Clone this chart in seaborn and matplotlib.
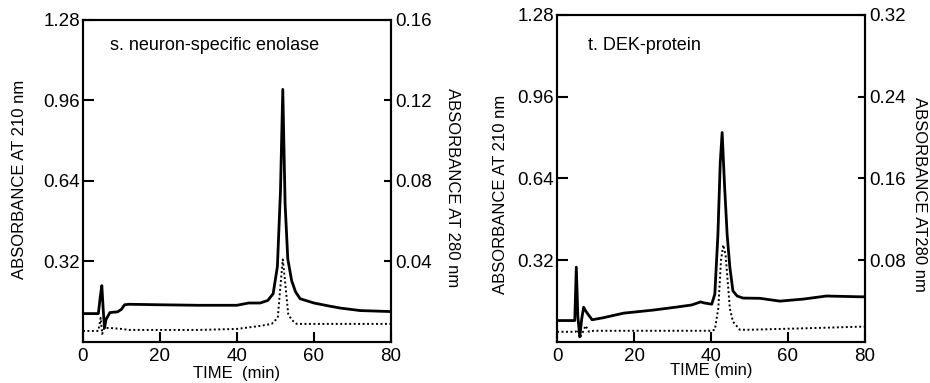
import numpy as np
import pandas as pd
import matplotlib
matplotlib.use("Agg")
import matplotlib.pyplot as plt
import seaborn as sns

# ==========================================
# DATA
# ==========================================
# s. neuron-specific enolase, absorbance at 210 nm (left axis)
nse_t210 = [0, 4.0, 4.5, 4.9, 5.3, 5.6, 6.0, 7.0, 9.0, 10.0, 10.8, 12, 20, 30, 40, 43,
            46, 48, 49.4, 50.5, 51.3, 51.9, 52.5, 53.2, 54.2, 55.2, 56.4, 60, 63.6, 66.8, 72, 80]
nse_a210 = [0.113, 0.113, 0.18, 0.224, 0.12, 0.056, 0.09, 0.117, 0.12, 0.13, 0.148, 0.15, 0.148,
            0.146, 0.146, 0.155, 0.155, 0.165, 0.192, 0.30, 0.60, 1.004, 0.55, 0.33, 0.244, 0.20,
            0.172, 0.155, 0.144, 0.135, 0.125, 0.121]
# absorbance at 280 nm (right axis)
nse_t280 = [0, 4.0, 4.6, 5.0, 5.5, 7, 10, 12, 20, 30, 40, 46, 49, 50.6, 51.3, 51.9, 52.5,
            53.3, 54.2, 55.5, 60, 70, 80]
nse_a280 = [0.0055, 0.0055, 0.012, 0.004, 0.007, 0.007, 0.0065, 0.006, 0.006, 0.006, 0.0065,
            0.008, 0.009, 0.012, 0.028, 0.041, 0.03, 0.014, 0.011, 0.009, 0.009, 0.009, 0.009]

# t. DEK-protein, absorbance at 210 nm (left axis)
dek_t210 = [0, 4.6, 5.0, 5.4, 5.9, 6.4, 6.9, 7.5, 9.1, 12, 17.3, 25, 31.2, 35, 37.3, 38.2,
            40.2, 41.0, 41.8, 42.4, 42.9, 43.5, 44.2, 44.9, 45.7, 46.8, 48.3, 52.7, 57.9, 64,
            70, 78.7, 80]
dek_a210 = [0.084, 0.084, 0.293, 0.10, 0.02, 0.09, 0.136, 0.12, 0.087, 0.095, 0.113, 0.125,
            0.137, 0.145, 0.157, 0.153, 0.148, 0.188, 0.42, 0.70, 0.82, 0.62, 0.42, 0.293, 0.20,
            0.18, 0.172, 0.171, 0.16, 0.168, 0.18, 0.177, 0.177]
# absorbance at 280 nm (right axis)
dek_t280 = [0, 4.8, 5.4, 5.9, 6.5, 7.4, 8.3, 9.5, 12, 20, 30, 40, 41.0, 41.9, 42.6, 43.2,
            43.8, 44.9, 45.7, 47.5, 50, 60, 70, 78.7, 80]
dek_a280 = [0.010, 0.010, 0.012, 0.004, 0.008, 0.016, 0.010, 0.011, 0.011, 0.011, 0.011,
            0.011, 0.012, 0.033, 0.08, 0.095, 0.085, 0.033, 0.02, 0.012, 0.012, 0.013, 0.014,
            0.015, 0.015]

x_ticks = [0, 20, 40, 60, 80]
left_ticks = [0.32, 0.64, 0.96, 1.28]
nse_right_ticks = [0.04, 0.08, 0.12, 0.16]
dek_right_ticks = [0.08, 0.16, 0.24, 0.32]

# ==========================================
# STYLE
# ==========================================
sns.set_style("ticks")
plt.rcParams['font.family'] = ['Liberation Sans', 'DejaVu Sans']
plt.rcParams.update({
    'axes.linewidth': 1.5,
    'axes.edgecolor': 'black',
    'axes.labelcolor': 'black',
    'text.color': 'black',
    'xtick.color': 'black',
    'ytick.color': 'black',
})

fig = plt.figure(figsize=(9.3, 3.83), dpi=100)
fig.patch.set_facecolor('white')

panels = [
    dict(rect=[0.0892, 0.107, 0.3312, 0.841], t210=nse_t210, a210=nse_a210,
         t280=nse_t280, a280=nse_a280, rtop=0.16, rticks=nse_right_ticks,
         title="s. neuron-specific enolase", title_xy=(0.088, 0.922),
         xlabel="TIME  (min)", xlabel_y=-0.098,
         llabel_xy=(-0.205, 0.505), rlabel="ABSORBANCE AT 280 nm", rlabel_xy=(1.20, 0.48)),
    dict(rect=[0.599, 0.107, 0.331, 0.854], t210=dek_t210, a210=dek_a210,
         t280=dek_t280, a280=dek_a280, rtop=0.32, rticks=dek_right_ticks,
         title="t. DEK-protein", title_xy=(0.10, 0.908),
         xlabel="TIME (min)", xlabel_y=-0.088,
         llabel_xy=(-0.185, 0.45), rlabel="ABSORBANCE AT280 nm", rlabel_xy=(1.178, 0.45)),
]

for p in panels:
    ax = fig.add_axes(p['rect'])
    ax2 = ax.twinx()

    df210 = pd.DataFrame({'t': p['t210'], 'a': p['a210']})
    df280 = pd.DataFrame({'t': p['t280'], 'a': p['a280']})
    sns.lineplot(data=df210, x='t', y='a', ax=ax, color='black', linewidth=2.0,
                 estimator=None, sort=False)
    sns.lineplot(data=df280, x='t', y='a', ax=ax2, color='black', linewidth=1.4,
                 linestyle=(0, (1, 1.3)), estimator=None, sort=False)

    ax.set_xlim(0, 80)
    ax.set_ylim(0, 1.28)
    ax2.set_ylim(0, p['rtop'])
    ax.set_xticks(x_ticks)
    ax.set_yticks(left_ticks)
    ax2.set_yticks(p['rticks'])
    ax.set_xticklabels([str(v) for v in x_ticks])
    ax.set_yticklabels([f"{v:.2f}" for v in left_ticks])
    ax2.set_yticklabels([f"{v:.2f}" for v in p['rticks']])

    ax.tick_params(axis='x', direction='in', length=7, width=1.5, labelsize=13.5, pad=4)
    ax.tick_params(axis='y', direction='in', length=8, width=1.5, labelsize=13.5, pad=2)
    ax2.tick_params(axis='y', direction='in', length=5, width=1.5, labelsize=13.5, pad=3)

    for sp in list(ax.spines.values()) + list(ax2.spines.values()):
        sp.set_visible(True)
        sp.set_linewidth(1.5)
        sp.set_color('black')

    ax.set_xlabel(p['xlabel'], fontsize=12, va='center')
    ax.xaxis.set_label_coords(0.5, p['xlabel_y'])
    ax.set_ylabel("ABSORBANCE AT 210 nm", fontsize=12, va='center')
    ax.yaxis.set_label_coords(*p['llabel_xy'])
    ax2.set_ylabel(p['rlabel'], fontsize=12, rotation=270, va='center')
    ax2.yaxis.set_label_coords(*p['rlabel_xy'])

    ax.text(p['title_xy'][0], p['title_xy'][1], p['title'], transform=ax.transAxes,
            fontsize=13, ha='left', va='center')

plt.savefig("out.png", dpi=100)
plt.close()
